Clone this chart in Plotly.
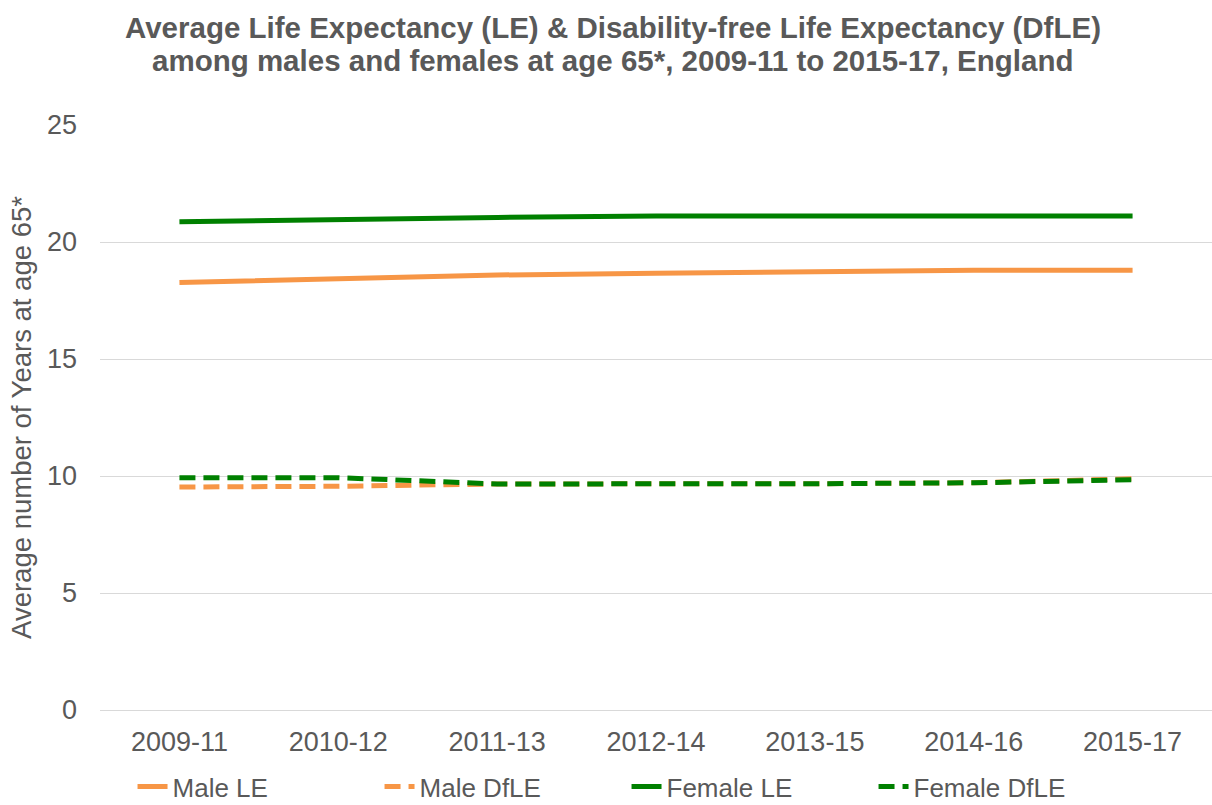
import plotly.graph_objects as go

periods = ["2009-11", "2010-12", "2011-13", "2012-14", "2013-15", "2014-16", "2015-17"]
male_le = [18.27, 18.44, 18.59, 18.66, 18.72, 18.79, 18.79]
male_dfle = [9.53, 9.56, 9.66, 9.64, 9.67, 9.71, 9.88]
female_le = [20.87, 20.98, 21.05, 21.11, 21.11, 21.15, 21.11]
female_dfle = [9.93, 9.93, 9.66, 9.65, 9.67, 9.71, 9.84]

title_lines = [
    "Average Life Expectancy (LE) & Disability-free Life Expectancy (DfLE)",
    "among males and females at age 65*, 2009-11 to 2015-17, England",
]

orange = "#F79646"
green = "#008000"
gray = "#595959"
font_family = "Liberation Sans, Arial, sans-serif"

fig = go.Figure()
fig.add_trace(go.Scatter(x=periods, y=male_le, name="Male LE", mode="lines",
                         line=dict(color=orange, width=5)))
fig.add_trace(go.Scatter(x=periods, y=male_dfle, name="Male DfLE", mode="lines",
                         line=dict(color=orange, width=5, dash="16px,8px")))
fig.add_trace(go.Scatter(x=periods, y=female_le, name="Female LE", mode="lines",
                         line=dict(color=green, width=5)))
fig.add_trace(go.Scatter(x=periods, y=female_dfle, name="Female DfLE", mode="lines",
                         line=dict(color=green, width=5, dash="16px,8px")))

# Title as two annotations to control line spacing
title_y = [1.166, 1.110]
for txt, yy in zip(title_lines, title_y):
    fig.add_annotation(text="<b>" + txt + "</b>", xref="paper", yref="paper",
                       x=0.461, y=yy, xanchor="center", yanchor="middle",
                       showarrow=False, font=dict(size=29.5, color=gray, family=font_family))

fig.update_layout(
    width=1212, height=805,
    paper_bgcolor="white", plot_bgcolor="white",
    margin=dict(l=100, r=0, t=125, b=95, autoexpand=False),
    font=dict(family=font_family, color=gray, size=26),
    xaxis=dict(type="category", range=[-0.5, 6.5], showgrid=False, showline=True,
               linecolor="#D9D9D9", linewidth=1, ticks="", ticklabelstandoff=8,
               tickfont=dict(size=27, color=gray)),
    yaxis=dict(range=[0, 25], dtick=5, showgrid=True, gridcolor="#D9D9D9", gridwidth=1,
               zeroline=False, ticks="", ticklabelstandoff=22,
               tickfont=dict(size=27, color=gray),
               title=dict(text="Average number of Years at age 65*",
                          font=dict(size=27.5, color=gray), standoff=7)),
    legend=dict(orientation="h", x=0.4735, xanchor="center", y=-0.131, yanchor="middle",
                font=dict(size=26, color=gray), entrywidth=202, entrywidthmode="pixels",
                bgcolor="rgba(0,0,0,0)"),
    showlegend=True,
)

fig.write_html("out.html", config={"displayModeBar": False},
               post_script="document.body.style.margin='0';")
